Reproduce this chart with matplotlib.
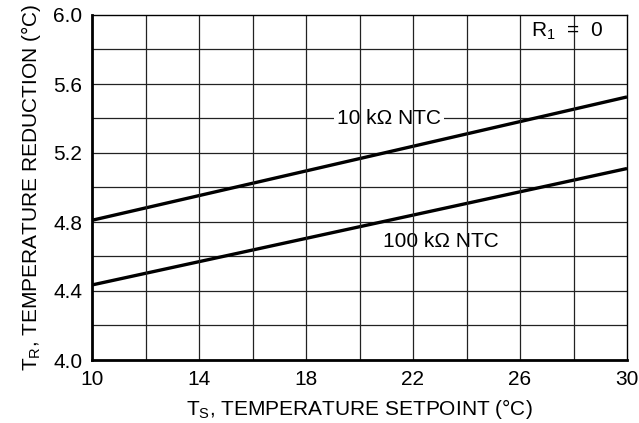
import matplotlib
matplotlib.use("Agg")
import matplotlib.pyplot as plt
import numpy as np

plt.rcParams["font.family"] = ["Liberation Sans", "DejaVu Sans"]
plt.rcParams["mathtext.fontset"] = "custom"
plt.rcParams["mathtext.rm"] = "Liberation Sans"

# curve end points
setpoint = [10, 30]
ntc_10k = [4.81, 5.525]
ntc_100k = [4.435, 5.11]

x_ticks = [10, 14, 18, 22, 26, 30]
y_ticks = [4.0, 4.4, 4.8, 5.2, 5.6, 6.0]

FS = 15

fig = plt.figure(figsize=(6.39, 4.23), dpi=100)
ax = fig.add_axes([92 / 639, 1 - 360 / 423, 535 / 639, 345 / 423])
ax.set_xlim(10, 30)
ax.set_ylim(4.0, 6.0)

# grid: horizontal lines under the labels, vertical ones over them
for yv in np.arange(4.2, 6.0, 0.2):
    ax.axhline(yv, color="#222222", lw=0.9, zorder=1)
for xv in range(12, 30, 2):
    ax.axvline(xv, color="#222222", lw=0.9, zorder=4)

ax.plot(setpoint, ntc_10k, color="black", lw=2.4, zorder=3, solid_capstyle="butt")
ax.plot(setpoint, ntc_100k, color="black", lw=2.4, zorder=3, solid_capstyle="butt")

ax.text(21.1, 5.40, "10 k\u03a9 NTC", fontsize=FS, ha="center", va="center",
        bbox=dict(facecolor="white", edgecolor="none", pad=2.0), zorder=2)
ax.text(23.05, 4.685, "100 k\u03a9 NTC", fontsize=FS, ha="center", va="center", zorder=2)
ax.text(27.75, 5.905, r"R$_\mathregular{1}$  =  0", fontsize=FS, ha="center", va="center", zorder=5)

ax.set_xticks(x_ticks)
ax.set_yticks(y_ticks)
ax.set_yticklabels([f"{v:.1f}" for v in y_ticks])
ax.tick_params(length=0, labelsize=FS, pad=7)

for side in ["left", "bottom"]:
    ax.spines[side].set_linewidth(2.0)
for side in ["top", "right"]:
    ax.spines[side].set_linewidth(1.0)
for sp in ax.spines.values():
    sp.set_zorder(6)

ax.set_xlabel(r"T$_\mathregular{S}$, TEMPERATURE SETPOINT (°C)", fontsize=FS, labelpad=6)
ax.set_ylabel(r"T$_\mathregular{R}$, TEMPERATURE REDUCTION (°C)", fontsize=FS, labelpad=7)

fig.savefig("out.png", dpi=100)
